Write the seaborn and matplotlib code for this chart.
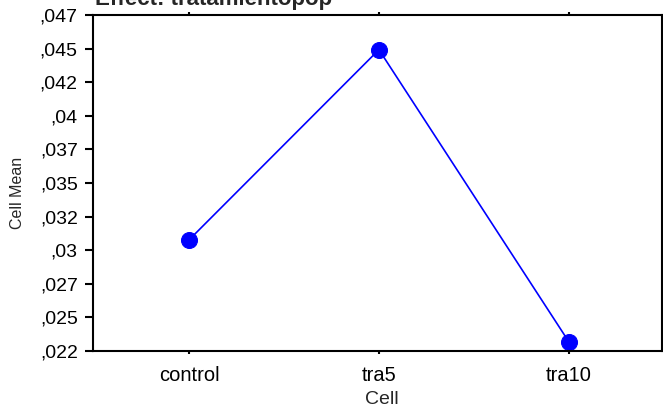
import matplotlib
matplotlib.use("Agg")
import matplotlib.pyplot as plt
import seaborn as sns
import pandas as pd

cells = ["control", "tra5", "tra10"]
cell_means = [0.03026, 0.04442, 0.02268]
y_ticks = [0.022, 0.0245, 0.027, 0.0295, 0.032, 0.0345, 0.037, 0.0395, 0.042, 0.0445, 0.047]
y_tick_labels = [",022", ",025", ",027", ",03", ",032", ",035", ",037", ",04", ",042", ",045", ",047"]
title = "Effect: tratamientopop"

sns.set_style("white")
plt.rcParams["font.family"] = ["Liberation Sans", "DejaVu Sans"]

df = pd.DataFrame({"Cell": cells, "Cell Mean": cell_means})

fig = plt.figure(figsize=(6.63, 4.08), dpi=100)
ax = fig.add_axes([93/663, 1 - 351/408, (662 - 93)/663, (351 - 15)/408])

sns.lineplot(data=df, x="Cell", y="Cell Mean", sort=False, ax=ax,
             color="#0000ff", linewidth=1.2, marker="o", markersize=11.5,
             markeredgecolor="#0000ff", markerfacecolor="#0000ff")

ax.set_xlim(-0.505, 2.49)
ax.set_ylim(0.022, 0.047)
ax.set_yticks(y_ticks)
ax.set_yticklabels(y_tick_labels, fontsize=14)
ax.set_xticks(range(len(cells)))
ax.set_xticklabels(cells, fontsize=14.5)

for s in ax.spines.values():
    s.set_visible(True)
    s.set_color("black")
    s.set_linewidth(1.5)

ax.tick_params(axis="y", left=True, direction="out", length=6, width=1.5, pad=5, colors="black")
ax.tick_params(axis="x", bottom=True, top=True, direction="out", length=2.5, width=1.5, pad=8, colors="black")

ax.set_xlabel("Cell", fontsize=14)
ax.set_ylabel("Cell Mean", fontsize=11.5)
ax.xaxis.set_label_coords(0.508, -0.118)
ax.yaxis.set_label_coords(-0.12, 0.47)

fig.text(95/663, 1 - 5/408, title, fontsize=16, fontweight="bold", va="baseline", ha="left")

fig.savefig("out.png", dpi=100)
